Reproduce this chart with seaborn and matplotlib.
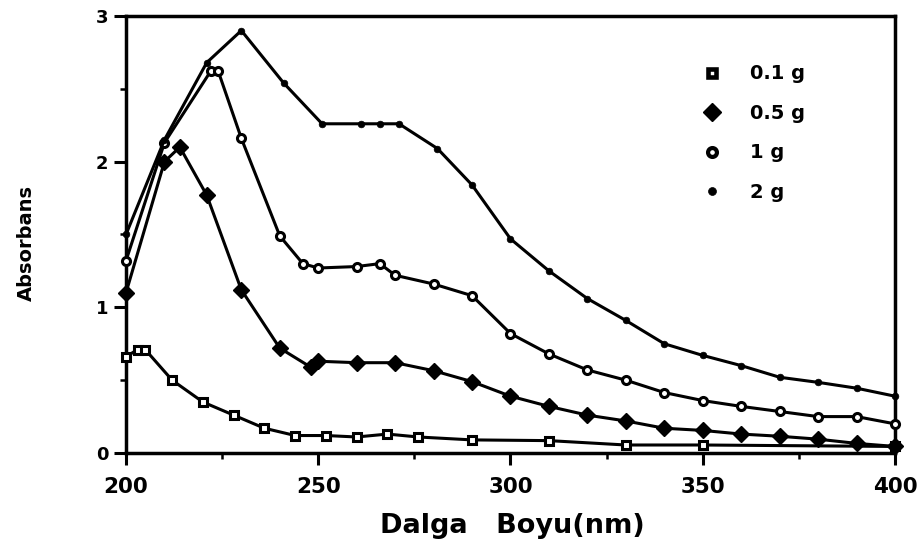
import matplotlib
matplotlib.use("Agg")
import matplotlib.pyplot as plt
from matplotlib.lines import Line2D
from matplotlib.ticker import MultipleLocator
import seaborn as sns
import pandas as pd

# ---- data ----
wl_01 = [200, 203, 205, 212, 220, 228, 236, 244, 252, 260, 268, 276, 290, 310, 330, 350, 400]
ab_01 = [0.66, 0.71, 0.71, 0.50, 0.35, 0.26, 0.17, 0.12, 0.12, 0.11, 0.13, 0.11, 0.09, 0.085, 0.055, 0.055, 0.045]

wl_05 = [200, 210, 214, 221, 230, 240, 248, 250, 260, 270, 280, 290, 300, 310, 320, 330, 340, 350, 360, 370, 380, 390, 400]
ab_05 = [1.10, 2.00, 2.10, 1.77, 1.12, 0.72, 0.59, 0.63, 0.62, 0.62, 0.565, 0.49, 0.39, 0.32, 0.26, 0.22, 0.17, 0.155, 0.13, 0.115, 0.095, 0.066, 0.045]

wl_1 = [200, 210, 222, 224, 230, 240, 246, 250, 260, 266, 270, 280, 290, 300, 310, 320, 330, 340, 350, 360, 370, 380, 390, 400]
ab_1 = [1.32, 2.13, 2.62, 2.62, 2.16, 1.49, 1.30, 1.27, 1.28, 1.30, 1.22, 1.16, 1.08, 0.82, 0.68, 0.57, 0.50, 0.415, 0.36, 0.32, 0.285, 0.25, 0.25, 0.20]

wl_2 = [200, 210, 221, 230, 241, 251, 261, 266, 271, 281, 290, 300, 310, 320, 330, 340, 350, 360, 370, 380, 390, 400]
ab_2 = [1.50, 2.15, 2.68, 2.90, 2.54, 2.26, 2.26, 2.26, 2.26, 2.09, 1.84, 1.47, 1.25, 1.06, 0.91, 0.75, 0.67, 0.60, 0.52, 0.485, 0.445, 0.39]

labels = ["0.1 g", "0.5 g", "1 g", "2 g"]
x_ticks = [200, 250, 300, 350, 400]
y_ticks = [0, 1, 2, 3]

sns.set_style("ticks")
plt.rcParams["font.family"] = ["DejaVu Sans"]
plt.rcParams["font.weight"] = "bold"
for k in ["text.color", "axes.labelcolor", "xtick.color", "ytick.color", "axes.edgecolor"]:
    plt.rcParams[k] = "black"

fig = plt.figure(figsize=(9.17, 5.57), dpi=100)
ax = fig.add_axes([0.1374, 0.1867, 0.976 - 0.1374, 0.9713 - 0.1867])

plot_styles = [
    dict(marker="s", markersize=5.5, markerfacecolor="white", markeredgecolor="black", markeredgewidth=2.2),
    dict(marker="D", markersize=8, markerfacecolor="black", markeredgecolor="black", markeredgewidth=1),
    dict(marker="o", markersize=5.8, markerfacecolor="white", markeredgecolor="black", markeredgewidth=2.2),
    dict(marker="o", markersize=4.8, markerfacecolor="black", markeredgecolor="black", markeredgewidth=0.5),
]
legend_styles = [
    dict(marker="s", markersize=6.1, markerfacecolor="white", markeredgecolor="black", markeredgewidth=3.3),
    dict(marker="D", markersize=9.5, markerfacecolor="black", markeredgecolor="black", markeredgewidth=1),
    dict(marker="o", markersize=6.4, markerfacecolor="white", markeredgecolor="black", markeredgewidth=3),
    dict(marker="o", markersize=5.7, markerfacecolor="black", markeredgecolor="black", markeredgewidth=0.5),
]
series = [(wl_01, ab_01), (wl_05, ab_05), (wl_1, ab_1), (wl_2, ab_2)]

for (wl, ab), st in zip(series, plot_styles):
    df = pd.DataFrame({"wl": wl, "ab": ab})
    sns.lineplot(data=df, x="wl", y="ab", ax=ax, color="black", linewidth=2.2,
                 legend=False, estimator=None, sort=True, clip_on=False, zorder=3, **st)

ax.set_xlim(200, 400)
ax.set_ylim(0, 3)
ax.set_xticks(x_ticks)
ax.set_yticks(y_ticks)
ax.xaxis.set_minor_locator(MultipleLocator(25))
ax.yaxis.set_minor_locator(MultipleLocator(0.5))
ax.tick_params(axis="both", which="major", direction="out", length=8.6, width=2.2, color="black")
ax.tick_params(axis="both", which="minor", direction="out", length=4.5, width=1.8, color="black")
ax.tick_params(axis="x", which="major", labelsize=15.5, pad=8.5, labelcolor="black")
ax.tick_params(axis="y", which="major", labelsize=13, pad=4, labelcolor="black")
for lbl in ax.get_xticklabels() + ax.get_yticklabels():
    lbl.set_fontweight("bold")
for sp in ax.spines.values():
    sp.set_visible(True)
    sp.set_linewidth(2.5)
    sp.set_color("black")

ax.set_xlabel("Dalga   Boyu(nm)", fontsize=19.5, fontweight="bold", color="black")
ax.xaxis.set_label_coords(0.502, -0.137)
ax.set_ylabel("Absorbans", fontsize=14, fontweight="bold", color="black")
ax.yaxis.set_label_coords(-0.117, 0.48)

handles = [Line2D([], [], linestyle="none", color="black", **st) for st in legend_styles]
leg = ax.legend(handles, labels, loc="upper left", bbox_to_anchor=(0.737, 0.889), frameon=False,
                borderaxespad=0, borderpad=0, handlelength=2, handletextpad=0.96,
                labelspacing=1.05, prop={"weight": "bold", "size": 14}, labelcolor="black")

fig.savefig("out.png", dpi=100)
